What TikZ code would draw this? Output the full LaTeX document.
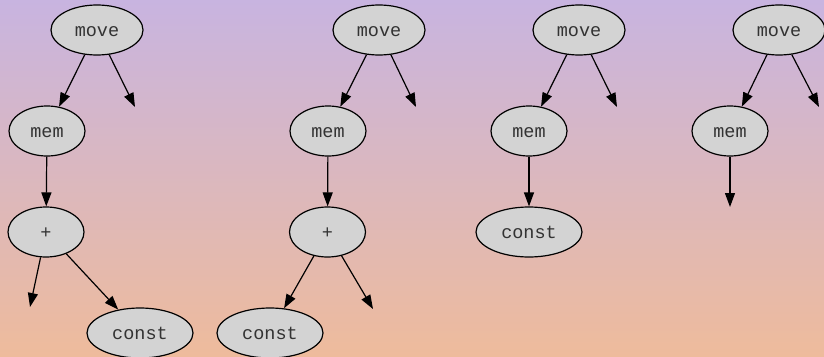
\documentclass[tikz,border=0pt]{standalone}
\usepackage{fontspec}
\setmonofont{Liberation Mono}
\usetikzlibrary{shapes.geometric,arrows.meta}
\definecolor{bgtop}{HTML}{C8B4E0}
\definecolor{bgbot}{HTML}{EEBB9C}
\definecolor{nodefill}{HTML}{D3D3D3}
\tikzset{
  tnode/.style={ellipse,draw=black,line width=1.2pt,fill=nodefill,inner sep=0pt,
    minimum height=50pt,font=\ttfamily\fontsize{18.5}{20}\selectfont,text=black!80,
    text height=13pt,text depth=0pt},
  wide/.style={tnode,minimum width=92pt},
  mid/.style={tnode,minimum width=76pt},
  cst/.style={tnode,minimum width=106pt},
  edge/.style={line width=1.2pt,-{Triangle[length=14pt,width=10pt]}},
}
\begin{document}
\begin{tikzpicture}[x=1pt,y=-1pt]
\shade[top color=bgtop,bottom color=bgbot] (0,0) rectangle (824,356);
\useasboundingbox (0,0) rectangle (824,356);
\begin{scope}
\clip (0,0) rectangle (824,356);
% tree 1
\node[wide] (mv1) at (97,30) {move};
\node[mid] (mm1) at (47,131) {mem};
\node[mid] (pl1) at (46,232) {+};
\node[cst] (cs1) at (140,333) {const};
\coordinate (e1a) at (135,107);
\coordinate (e1b) at (30,307);
\draw[edge] (mv1) -- (mm1);
\draw[edge] (mv1) -- (e1a);
\draw[edge] (mm1) -- (pl1);
\draw[edge] (pl1) -- (e1b);
\draw[edge] (pl1) -- (cs1);
% tree 2
\node[wide] (mv2) at (379,30) {move};
\node[mid] (mm2) at (328,131) {mem};
\node[mid] (pl2) at (327.5,232) {+};
\node[cst] (cs2) at (270,333) {const};
\coordinate (e2a) at (416,107);
\coordinate (e2b) at (373,309);
\draw[edge] (mv2) -- (mm2);
\draw[edge] (mv2) -- (e2a);
\draw[edge] (mm2) -- (pl2);
\draw[edge] (pl2) -- (cs2);
\draw[edge] (pl2) -- (e2b);
% tree 3
\node[wide] (mv3) at (579,30) {move};
\node[mid] (mm3) at (529,131) {mem};
\node[cst] (cs3) at (529,232) {const};
\coordinate (e3a) at (617,107);
\draw[edge] (mv3) -- (mm3);
\draw[edge] (mv3) -- (e3a);
\draw[edge] (mm3) -- (cs3);
% tree 4
\node[wide] (mv4) at (779,30) {move};
\node[mid] (mm4) at (730,131) {mem};
\coordinate (e4a) at (819,107);
\coordinate (e4b) at (730,207);
\draw[edge] (mv4) -- (mm4);
\draw[edge] (mv4) -- (e4a);
\draw[edge] (mm4) -- (e4b);
\end{scope}
\end{tikzpicture}
\end{document}
